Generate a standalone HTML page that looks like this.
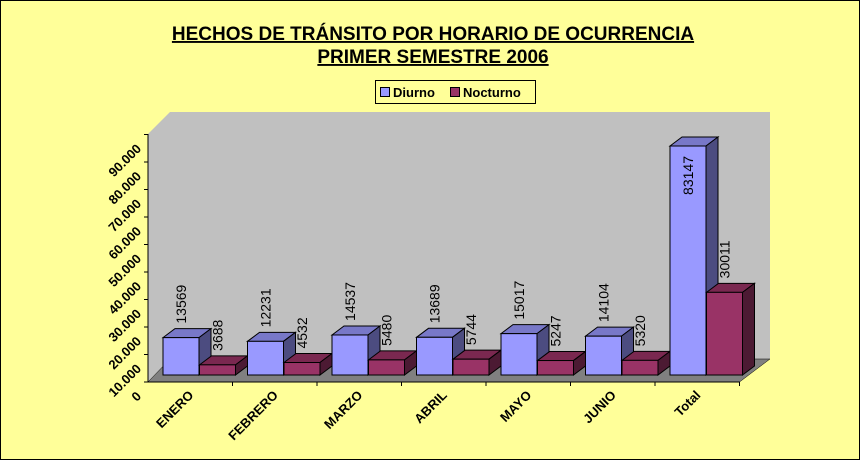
<!DOCTYPE html>
<html><head><meta charset="utf-8"><style>
body{margin:0;background:#fff}
svg{display:block;font-family:"Liberation Sans",Arial,sans-serif}
</style></head><body>
<svg width="861" height="461" viewBox="0 0 861 461" xmlns="http://www.w3.org/2000/svg">
<rect x="0.5" y="0.5" width="859" height="459" fill="#FFFF99" stroke="#000"/>
<text x="433" y="40" text-anchor="middle" font-size="19" font-weight="bold" text-decoration="underline">HECHOS DE TRÁNSITO POR HORARIO DE OCURRENCIA</text>
<text x="433" y="63" text-anchor="middle" font-size="19" font-weight="bold" text-decoration="underline">PRIMER  SEMESTRE 2006</text>
<g>
<rect x="375.5" y="80.5" width="160" height="23" fill="#FFFF99" stroke="#000"/>
<rect x="380.5" y="87.5" width="9" height="9" fill="#9999FF" stroke="#000"/>
<text x="393" y="97" font-size="13" font-weight="bold">Diurno</text>
<rect x="450.5" y="87.5" width="9" height="9" fill="#993366" stroke="#000"/>
<text x="463" y="97" font-size="13" font-weight="bold">Nocturno</text>
</g>
<g id="plot"></g>
</svg>
<script>
const categories=["ENERO","FEBRERO","MARZO","ABRIL","MAYO","JUNIO","Total"];
const diurno=[13569,12231,14537,13689,15017,14104,83147];
const nocturno=[3688,4532,5480,5744,5247,5320,30011];
const yTicks=[0,10000,20000,30000,40000,50000,60000,70000,80000,90000];
const yTickLabels=["0","10.000","20.000","30.000","40.000","50.000","60.000","70.000","80.000","90.000"];

const NS="http://www.w3.org/2000/svg";
const plot=document.getElementById('plot');
const X0=148,CW=84.5,BASE=375,AXY=382,DX=22,DY=-23,scale=(375-146)/83147;
const yv=v=>BASE-v*scale;
const yt=v=>AXY-v*0.00275;
function el(t,a,p){const e=document.createElementNS(NS,t);for(const k in a)e.setAttribute(k,a[k]);(p||plot).appendChild(e);return e;}
let w=el('polygon',{points:`${X0+DX},${AXY+DY} ${X0+DX},112 770,112 770,${AXY+DY}`,fill:'#C0C0C0'});


let lw=el('polygon',{points:`${X0},${AXY} ${X0},134 ${X0+DX},112 ${X0+DX},${AXY+DY}`,fill:'#C0C0C0'});


let fl=el('polygon',{points:`${X0},${AXY} ${X0+CW*7},${AXY} 770,${AXY+DY} ${X0+DX},${AXY+DY}`,fill:'#808080',stroke:'#000','stroke-width':0.5});


let ya=el('line',{x1:X0,y1:134,x2:X0,y2:AXY,stroke:'#000'});


let xa=el('line',{x1:X0,y1:AXY,x2:X0+CW*7,y2:AXY,stroke:'#000'});


yTicks.forEach((v,i)=>{
  const y=yt(v);
  const t=el('line',{x1:X0-4,y1:y,x2:X0,y2:y,stroke:'#000'});
  
  
  const tx=el('text',{x:X0-6,y:y+15,'text-anchor':'end','font-size':13,'font-weight':'bold',transform:`rotate(-45 ${X0-6} ${y+15})`});
  tx.textContent=yTickLabels[i];
  
  
});
function bar(x,v,front,top,side,name){
  const y=yv(v),w=36,dx=12,dy=-9;
  const g=el('g',{});
  
  
  el('polygon',{points:`${x},${y} ${x+dx},${y+dy} ${x+w+dx},${y+dy} ${x+w},${y}`,fill:top,stroke:'#000','stroke-width':1},g);
  el('polygon',{points:`${x+w},${y} ${x+w+dx},${y+dy} ${x+w+dx},${BASE+dy} ${x+w},${BASE}`,fill:side,stroke:'#000','stroke-width':1},g);
  el('rect',{x:x,y:y,width:w,height:BASE-y,fill:front,stroke:'#000','stroke-width':1},g);
  return y;
}
function label(x,y,v,inside){
  const cx=x+18+5, ty=inside?y+10:y-14;
  const t=el('text',{x:cx,y:ty,'text-anchor':inside?'end':'start','font-size':14,transform:`rotate(-90 ${cx} ${ty})`});
  t.textContent=String(v);
  
  
}
categories.forEach((c,i)=>{
  const xd=163+CW*i, xn=xd+36.5;
  const y1=bar(xd,diurno[i],'#9999FF','#7878C8','#4C4C80','bar-diurno-'+c.toLowerCase());
  const y2=bar(xn,nocturno[i],'#993366','#7A2850','#4C1A33','bar-nocturno-'+c.toLowerCase());
  const ins=y1-60<120;
  label(xd,y1,diurno[i],ins);
  label(xn,y2,nocturno[i],false);
  const tk=el('line',{x1:X0+CW*(i+1),y1:AXY,x2:X0+CW*(i+1),y2:AXY+4,stroke:'#000'});
  
  
  const lx=X0+CW*i+CW/2+4, ly=AXY+14;
  const t=el('text',{x:lx,y:ly,'text-anchor':'end','font-size':13,'font-weight':'bold',transform:`rotate(-45 ${lx} ${ly})`});
  t.textContent=c;
  
  
});
</script>
</body></html>
